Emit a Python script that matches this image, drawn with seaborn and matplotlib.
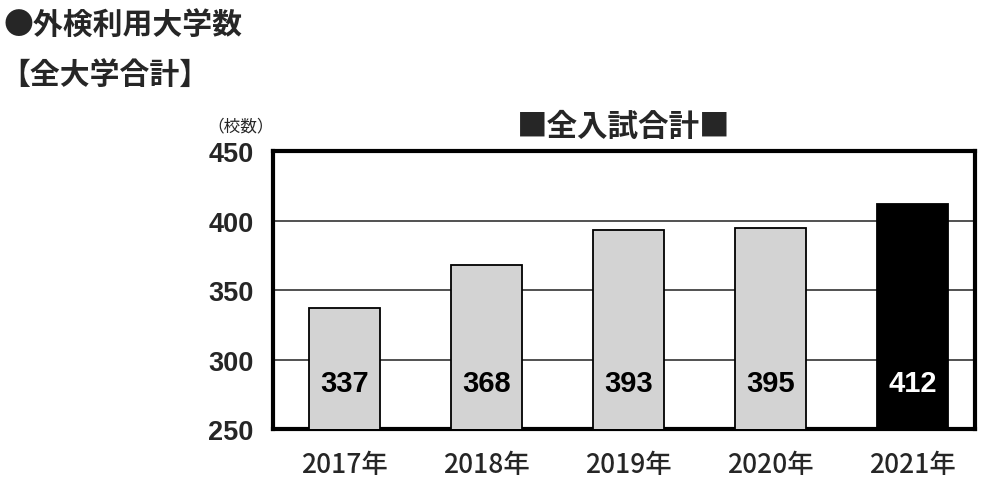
import matplotlib
matplotlib.use("Agg")
import matplotlib.pyplot as plt
import seaborn as sns
import pandas as pd

years = ["2017年", "2018年", "2019年", "2020年", "2021年"]
counts = [337, 368, 393, 395, 412]
bar_colors = ["#d3d3d3", "#d3d3d3", "#d3d3d3", "#d3d3d3", "#000000"]
label_colors = ["black", "black", "black", "black", "white"]
yticks = [250, 300, 350, 400, 450]

sns.set_theme(style="white")
plt.rcParams["font.family"] = ["Noto Sans CJK JP", "DejaVu Sans"]

df = pd.DataFrame({"year": years, "count": counts})

fig = plt.figure(figsize=(10.04, 4.89), dpi=100)
ax = fig.add_axes([0.272, 0.1207, 0.699, 0.568])

sns.barplot(data=df, x="year", y="count", hue="year", palette=bar_colors,
            legend=False, width=0.5, edgecolor="black", linewidth=1.3,
            ax=ax, zorder=3)

ax.set_xlim(-0.5, 4.44)
ax.set_ylim(250, 450)
ax.set_yticks(yticks)
ax.yaxis.grid(True, color="#333333", linewidth=1.2, zorder=0)
ax.set_axisbelow(True)
for s in ax.spines.values():
    s.set_visible(True)
    s.set_color("black")
    s.set_linewidth(3)

ax.set_xlabel("")
ax.set_ylabel("")
ax.tick_params(axis="both", length=0)
ax.tick_params(axis="y", pad=14)
ax.tick_params(axis="x", pad=16)
for t in ax.get_yticklabels():
    t.set_fontfamily(["Liberation Sans", "DejaVu Sans"])
    t.set_fontsize(19.5)
    t.set_fontweight("bold")
for t in ax.get_xticklabels():
    t.set_fontsize(19)
    t.set_fontweight("medium")

for i, (v, c) in enumerate(zip(counts, label_colors)):
    ax.text(i, 283, str(v), ha="center", va="center", color=c,
            fontsize=21, fontweight="bold",
            family=["Liberation Sans", "DejaVu Sans"], zorder=5)

ax.set_title("■全入試合計■", fontsize=22, fontweight="bold", pad=12)

fig.text(0.003, 0.948, "●外検利用大学数", fontsize=21.5, fontweight="bold",
         ha="left", va="center")
fig.text(0.0, 0.847, "【全大学合計】", fontsize=21.5, fontweight="bold",
         ha="left", va="center")
fig.text(0.207, 0.74, "（校数）", fontsize=12, ha="left", va="center")

fig.savefig("out.png", dpi=100)
